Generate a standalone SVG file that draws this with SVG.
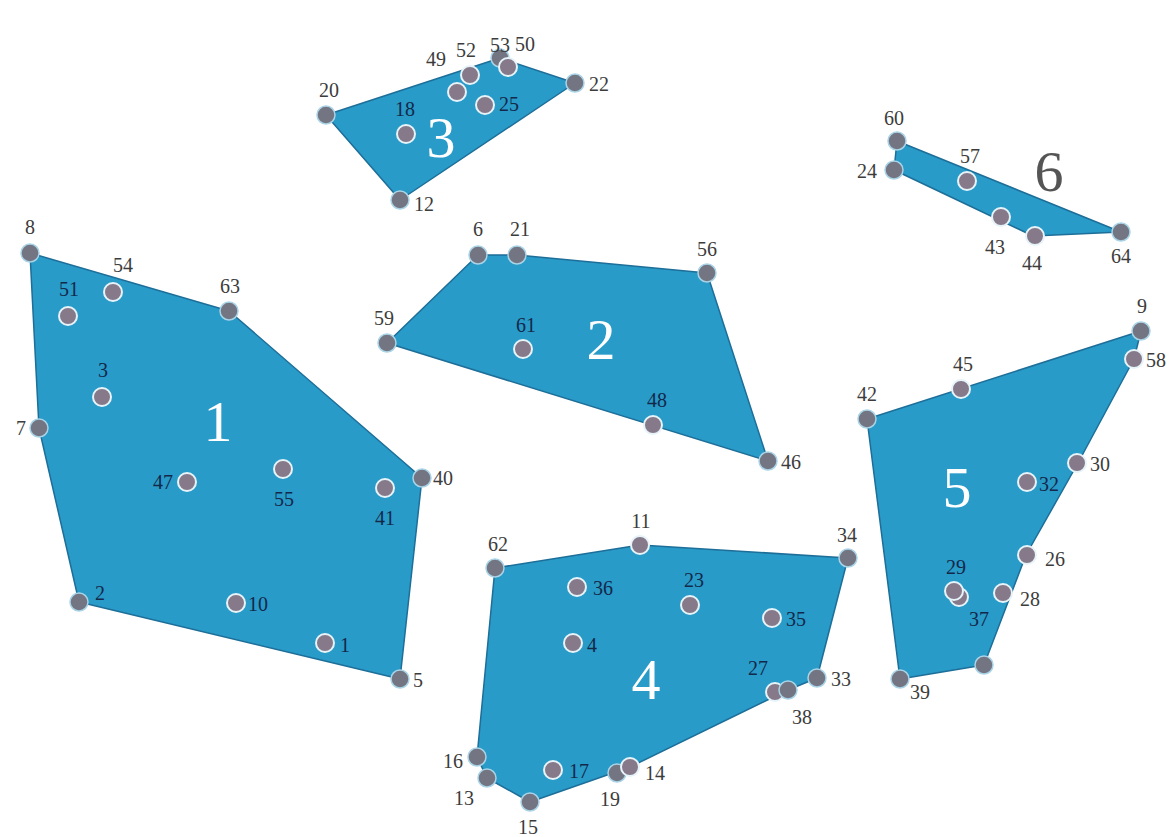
<svg xmlns="http://www.w3.org/2000/svg" width="1175" height="837" viewBox="0 0 1175 837">
<style>
.hull{fill:#289bc9;stroke:#1d6e98;stroke-width:1.5;stroke-linejoin:round}
.v{fill:#737682;stroke:#a9d3e6;stroke-width:1.5}
.i{fill:#86798a;stroke:#e6f3f8;stroke-width:2}
text{font-family:"Liberation Serif","DejaVu Serif",serif;font-size:20px}
.o{fill:#3c3c3c}
.n{fill:#14284a}
.big{font-size:58px;fill:#ffffff;text-anchor:middle}
.m{text-anchor:middle}
.e{text-anchor:end}
</style>
<g id="connectors">
<polygon id="hull1" class="hull" points="30,253 229,311 422,478 400,679 79,602 39,428"/>
<polygon id="hull2" class="hull" points="387,343 478,255 517,255 707,273 768,461"/>
<polygon id="hull3" class="hull" points="326,115 500,58 575,83 400,200"/>
<polygon id="hull4" class="hull" points="495,568 640,545 848,558 817,678 788,690 630,767 530,802 487,778 477,757"/>
<polygon id="hull5" class="hull" points="867,419 1141,331 1134,359 1078,463 1026,555 984,665 900,679"/>
<polygon id="hull6" class="hull" points="897,141 1121,232 1033,236 894,170"/>
</g>
<g id="cluster-labels">
<text class="big" x="218" y="441">1</text>
<text class="big" x="601" y="359">2</text>
<text class="big" x="441" y="157">3</text>
<text class="big" x="646" y="699">4</text>
<text class="big" x="957" y="507">5</text>
<text class="big" x="1049" y="191" style="fill:#555555">6</text>
</g>
<!-- cluster 1 -->
<g id="n8"><circle class="v" cx="30" cy="253" r="9"/><text class="o m" x="30" y="234">8</text></g>
<g id="n63"><circle class="v" cx="229" cy="311" r="9"/><text class="o m" x="230" y="293">63</text></g>
<g id="n40"><circle class="v" cx="422" cy="478" r="9"/><text class="o" x="433" y="485">40</text></g>
<g id="n5"><circle class="v" cx="400" cy="679" r="9"/><text class="o" x="413" y="687">5</text></g>
<g id="n2"><circle class="v" cx="79" cy="602" r="9"/><text class="n" x="95" y="600">2</text></g>
<g id="n7"><circle class="v" cx="39" cy="428" r="9"/><text class="o e" x="26" y="435">7</text></g>
<g id="n54"><circle class="i" cx="113" cy="292" r="9"/><text class="o m" x="123" y="272">54</text></g>
<g id="n51"><circle class="i" cx="68" cy="316" r="9"/><text class="n m" x="69" y="296">51</text></g>
<g id="n3"><circle class="i" cx="102" cy="397" r="9"/><text class="n m" x="103" y="377">3</text></g>
<g id="n47"><circle class="i" cx="187" cy="482" r="9"/><text class="n e" x="173" y="489">47</text></g>
<g id="n55"><circle class="i" cx="283" cy="469" r="9"/><text class="n m" x="284" y="506">55</text></g>
<g id="n41"><circle class="i" cx="385" cy="488" r="9"/><text class="n m" x="385" y="525">41</text></g>
<g id="n10"><circle class="i" cx="236" cy="603" r="9"/><text class="n" x="248" y="611">10</text></g>
<g id="n1"><circle class="i" cx="325" cy="643" r="9"/><text class="n" x="340" y="652">1</text></g>
<!-- cluster 2 -->
<g id="n59"><circle class="v" cx="387" cy="343" r="9"/><text class="o m" x="384" y="325">59</text></g>
<g id="n6"><circle class="v" cx="478" cy="255" r="9"/><text class="o m" x="478" y="236">6</text></g>
<g id="n21"><circle class="v" cx="517" cy="255" r="9"/><text class="o m" x="520" y="236">21</text></g>
<g id="n56"><circle class="v" cx="707" cy="273" r="9"/><text class="o m" x="707" y="256">56</text></g>
<g id="n46"><circle class="v" cx="768" cy="461" r="9"/><text class="o" x="781" y="469">46</text></g>
<g id="n61"><circle class="i" cx="523" cy="349" r="9"/><text class="n m" x="526" y="332">61</text></g>
<g id="n48"><circle class="i" cx="653" cy="425" r="9"/><text class="n m" x="657" y="407">48</text></g>
<!-- cluster 3 -->
<g id="n20"><circle class="v" cx="326" cy="115" r="9"/><text class="o m" x="329" y="97">20</text></g>
<g id="n22"><circle class="v" cx="575" cy="83" r="9"/><text class="o" x="589" y="91">22</text></g>
<g id="n12"><circle class="v" cx="400" cy="200" r="9"/><text class="o" x="414" y="211">12</text></g>
<g id="n53"><circle class="v" cx="500" cy="58" r="9"/><text class="o m" x="500" y="52">53</text></g>
<g id="n50"><circle class="i" cx="508" cy="67" r="9"/><text class="o" x="515" y="51">50</text></g>
<g id="n52"><circle class="i" cx="470" cy="75" r="9"/><text class="o m" x="466" y="57">52</text></g>
<g id="n49"><circle class="i" cx="457" cy="92" r="9"/><text class="o m" x="436" y="66">49</text></g>
<g id="n25"><circle class="i" cx="485" cy="105" r="9"/><text class="n" x="499" y="111">25</text></g>
<g id="n18"><circle class="i" cx="406" cy="134" r="9"/><text class="n m" x="405" y="116">18</text></g>
<!-- cluster 4 -->
<g id="n62"><circle class="v" cx="495" cy="568" r="9"/><text class="o m" x="498" y="551">62</text></g>
<g id="n11"><circle class="i" cx="640" cy="545" r="9"/><text class="o m" x="641" y="528">11</text></g>
<g id="n34"><circle class="v" cx="848" cy="558" r="9"/><text class="o m" x="847" y="542">34</text></g>
<g id="n33"><circle class="v" cx="817" cy="678" r="9"/><text class="o" x="831" y="686">33</text></g>
<g id="n27"><circle class="i" cx="775" cy="692" r="9"/><text class="n m" x="758" y="675">27</text></g>
<g id="n38"><circle class="v" cx="788" cy="690" r="9"/><text class="o m" x="802" y="724">38</text></g>
<g id="n19"><circle class="v" cx="617" cy="773" r="9"/><text class="o m" x="610" y="806">19</text></g>
<g id="n14"><circle class="i" cx="630" cy="767" r="9"/><text class="o" x="645" y="780">14</text></g>
<g id="n15"><circle class="v" cx="530" cy="802" r="9"/><text class="o m" x="528" y="834">15</text></g>
<g id="n13"><circle class="v" cx="487" cy="778" r="9"/><text class="o e" x="474" y="805">13</text></g>
<g id="n16"><circle class="v" cx="477" cy="757" r="9"/><text class="o e" x="463" y="768">16</text></g>
<g id="n36"><circle class="i" cx="577" cy="587" r="9"/><text class="n" x="593" y="595">36</text></g>
<g id="n23"><circle class="i" cx="690" cy="605" r="9"/><text class="n m" x="694" y="587">23</text></g>
<g id="n35"><circle class="i" cx="772" cy="618" r="9"/><text class="n" x="786" y="626">35</text></g>
<g id="n4"><circle class="i" cx="573" cy="643" r="9"/><text class="n" x="587" y="652">4</text></g>
<g id="n17"><circle class="i" cx="553" cy="770" r="9"/><text class="n" x="569" y="778">17</text></g>
<!-- cluster 5 -->
<g id="n9"><circle class="v" cx="1141" cy="331" r="9"/><text class="o m" x="1142" y="313">9</text></g>
<g id="n58"><circle class="i" cx="1134" cy="359" r="9"/><text class="o" x="1146" y="367">58</text></g>
<g id="n42"><circle class="v" cx="867" cy="419" r="9"/><text class="o m" x="867" y="401">42</text></g>
<g id="n45"><circle class="i" cx="961" cy="389" r="9"/><text class="o m" x="963" y="371">45</text></g>
<g id="n30"><circle class="i" cx="1077" cy="463" r="9"/><text class="o" x="1090" y="471">30</text></g>
<g id="n32"><circle class="i" cx="1027" cy="482" r="9"/><text class="n" x="1039" y="491">32</text></g>
<g id="n26"><circle class="i" cx="1027" cy="555" r="9"/><text class="o" x="1045" y="566">26</text></g>
<g id="n28"><circle class="i" cx="1003" cy="593" r="9"/><text class="o" x="1020" y="606">28</text></g>
<g id="n37"><circle class="i" cx="959" cy="597" r="9"/><text class="n m" x="979" y="626">37</text></g>
<g id="n29"><circle class="i" cx="954" cy="591" r="9"/><text class="n m" x="956" y="574">29</text></g>
<g id="n-unlabelled"><circle class="v" cx="984" cy="665" r="9"/></g>
<g id="n39"><circle class="v" cx="900" cy="679" r="9"/><text class="o" x="910" y="699">39</text></g>
<!-- cluster 6 -->
<g id="n60"><circle class="v" cx="897" cy="141" r="9"/><text class="o m" x="894" y="125">60</text></g>
<g id="n24"><circle class="v" cx="894" cy="170" r="9"/><text class="o e" x="877" y="178">24</text></g>
<g id="n57"><circle class="i" cx="967" cy="181" r="9"/><text class="o m" x="970" y="163">57</text></g>
<g id="n43"><circle class="i" cx="1001" cy="217" r="9"/><text class="o m" x="995" y="254">43</text></g>
<g id="n44"><circle class="i" cx="1035" cy="236" r="9"/><text class="o m" x="1032" y="270">44</text></g>
<g id="n64"><circle class="v" cx="1121" cy="232" r="9"/><text class="o m" x="1121" y="263">64</text></g>
</svg>
